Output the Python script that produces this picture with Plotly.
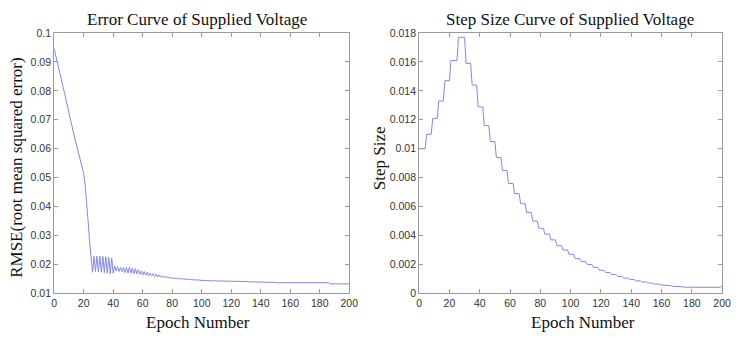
import plotly.graph_objects as go

# ---------------- data ----------------
epochs = list(range(0, 201))

rmse = [
    0.0945, 0.0925, 0.0903, 0.0881, 0.0860, 0.0840, 0.0815, 0.0792, 0.0768, 0.0745,
    0.0722, 0.0702, 0.0680, 0.0658, 0.0636, 0.0615, 0.0595, 0.0575, 0.0556, 0.0540,
    0.0515, 0.0475, 0.0420, 0.0350, 0.0280, 0.0210, 0.0173, 0.0228, 0.0176, 0.0229,
    0.0174, 0.0229, 0.0173, 0.0228, 0.0172, 0.0227, 0.0170, 0.0225, 0.0168, 0.0222,
    0.0170, 0.0195, 0.0178, 0.0192, 0.0176, 0.0190, 0.0175, 0.0190, 0.0172, 0.0190,
    0.0170, 0.0190, 0.0170, 0.0188, 0.0168, 0.0186, 0.0167, 0.0182, 0.0166, 0.0178,
    0.0163, 0.0176, 0.0163, 0.0173, 0.0161, 0.0170, 0.0160, 0.0168, 0.0158, 0.0166,
    0.0157, 0.0164, 0.0156, 0.0161, 0.0155, 0.0159, 0.0154, 0.0157, 0.0153, 0.0156,
    0.0152, 0.0154, 0.0151, 0.0153, 0.0150, 0.0152, 0.0149, 0.0151, 0.0149, 0.0150,
    0.0148, 0.0149, 0.0147, 0.0148, 0.0147, 0.0147, 0.0146, 0.0147, 0.0146, 0.0146,
    0.0145, 0.0145, 0.0144, 0.0145, 0.0144, 0.0144, 0.0144, 0.0143, 0.0144, 0.0143,
    0.0143, 0.0143, 0.0143, 0.0143, 0.0142, 0.0143, 0.0142, 0.0142, 0.0142, 0.0142,
    0.0142, 0.0143, 0.0141, 0.0142, 0.0141, 0.0142, 0.0141, 0.0141, 0.0141, 0.0141,
    0.0141, 0.0141, 0.0140, 0.0140, 0.0140, 0.0140, 0.0140, 0.0140, 0.0140, 0.0140,
    0.0139, 0.0139, 0.0139, 0.0139, 0.0139, 0.0139, 0.0139, 0.0139, 0.0139, 0.0138,
    0.0138, 0.0138, 0.0137, 0.0137, 0.0137, 0.0137, 0.0137, 0.0137, 0.0137, 0.0137,
    0.0137, 0.0137, 0.0137, 0.0137, 0.0137, 0.0137, 0.0137, 0.0137, 0.0137, 0.0137,
    0.0137, 0.0137, 0.0137, 0.0137, 0.0137, 0.0137, 0.0137, 0.0137, 0.0137, 0.0137,
    0.0137, 0.0137, 0.0137, 0.0137, 0.0137, 0.0137, 0.0137, 0.0133, 0.0133, 0.0133,
    0.0133, 0.0133, 0.0133, 0.0133, 0.0133, 0.0133, 0.0133, 0.0133, 0.0133, 0.0133,
    0.0133,
]

# step-size curve: each level held between a start and end epoch
step_start = [0, 5, 9, 13, 17, 21, 26, 31, 35, 39, 43, 47, 51, 55, 59, 63, 67, 71, 75,
              79, 83, 87, 91, 95, 99, 103, 107, 111, 115, 119, 123, 127, 131, 135, 139,
              143, 147, 151, 155, 159, 163, 167, 171, 175, 179, 183, 187, 191, 195, 199]
step_end = [4, 8, 12, 16, 20, 25, 30, 34, 38, 42, 46, 50, 54, 58, 62, 66, 70, 74, 78,
            82, 86, 90, 94, 98, 102, 106, 110, 114, 118, 122, 126, 130, 134, 138, 142,
            146, 150, 154, 158, 162, 166, 170, 174, 178, 182, 186, 190, 194, 198, 200]
step_level = [0.0100, 0.0110, 0.0121, 0.0133, 0.0147, 0.0161, 0.0177, 0.0159, 0.0144,
              0.0129, 0.0116, 0.0105, 0.0094, 0.0085, 0.0076, 0.0069, 0.0062, 0.0056,
              0.0050, 0.0045, 0.0041, 0.0037, 0.0033, 0.0030, 0.0027, 0.0024, 0.0022,
              0.0020, 0.0018, 0.0016, 0.00145, 0.0013, 0.00118, 0.00106, 0.00096,
              0.00087, 0.00079, 0.00072, 0.00065, 0.00059, 0.00054, 0.00050, 0.00046,
              0.00043, 0.00040, 0.00042, 0.00043, 0.00040, 0.00042, 0.00046]

x_ticks = [0, 20, 40, 60, 80, 100, 120, 140, 160, 180, 200]
left_yticks = [0.01, 0.02, 0.03, 0.04, 0.05, 0.06, 0.07, 0.08, 0.09, 0.1]
left_yticktext = ["0.01", "0.02", "0.03", "0.04", "0.05", "0.06", "0.07", "0.08", "0.09", "0.1"]
right_yticks = [0, 0.002, 0.004, 0.006, 0.008, 0.01, 0.012, 0.014, 0.016, 0.018]
right_yticktext = ["0", "0.002", "0.004", "0.006", "0.008", "0.01", "0.012", "0.014", "0.016", "0.018"]

titles = ["Error Curve of Supplied Voltage", "Step Size Curve of Supplied Voltage"]
x_title = "Epoch Number"
y_titles = ["RMSE(root mean squared error)", "Step Size"]

# ---------------- build ----------------
step_x, step_y = [], []
for s, e, v in zip(step_start, step_end, step_level):
    step_x += [s, e]
    step_y += [v, v]

W, H = 738, 338
line_col = "#8486ea"
axis_col = "#9a9a9a"
tick_font = dict(family="Liberation Sans Narrow, Arial Narrow, Liberation Sans, Arial, sans-serif",
                 size=10.5, color="#333333")
serif = "'Times New Roman', 'Liberation Serif', serif"

fig = go.Figure()
fig.add_trace(go.Scatter(x=epochs, y=rmse, mode="lines", xaxis="x", yaxis="y",
                         line=dict(color=line_col, width=1), showlegend=False))
fig.add_trace(go.Scatter(x=step_x, y=step_y, mode="lines", xaxis="x2", yaxis="y2",
                         line=dict(color=line_col, width=1), showlegend=False))

def px(v):
    return v / W

def py(v):
    return 1 - v / H

ydom = [py(298), py(28)]
common_x = dict(range=[0, 200], tickvals=x_ticks, ticks="inside", ticklen=4,
                tickcolor=axis_col, showline=True, linecolor=axis_col, linewidth=1,
                mirror="ticks", showgrid=False, zeroline=False, tickfont=tick_font,
                fixedrange=True)
common_y = dict(ticks="inside", ticklen=4, tickcolor=axis_col, showline=True,
                linecolor=axis_col, linewidth=1, mirror="ticks", showgrid=False,
                zeroline=False, tickfont=tick_font, fixedrange=True)

fig.update_layout(
    width=W, height=H,
    margin=dict(l=0, r=0, t=0, b=0),
    paper_bgcolor="white", plot_bgcolor="white",
    xaxis=dict(domain=[px(52), px(352)], anchor="y", **common_x),
    yaxis=dict(domain=ydom, anchor="x", range=[0.01, 0.1], tickvals=left_yticks,
               ticktext=left_yticktext, **common_y),
    xaxis2=dict(domain=[px(423), px(731)], anchor="y2", **common_x),
    yaxis2=dict(domain=ydom, anchor="x2", range=[0, 0.018], tickvals=right_yticks,
                ticktext=right_yticktext, **common_y),
)

def text_ann(text, x, y, size, angle=0):
    return dict(text=text, x=px(x), y=py(y), xref="paper", yref="paper",
                xanchor="center", yanchor="middle", showarrow=False, textangle=angle,
                font=dict(family=serif, size=size, color="#111111"))

ann = [
    text_ann(titles[0], 197, 14, 17),
    text_ann(titles[1], 576, 14, 17),
    text_ann(x_title, 198, 328, 17),
    text_ann(x_title, 590, 328, 17),
    text_ann(y_titles[0], 13, 168, 17, -90),
    text_ann(y_titles[1], 383, 158, 17, -90),
]
fig.update_layout(annotations=ann)

fig.write_html("out.html")
